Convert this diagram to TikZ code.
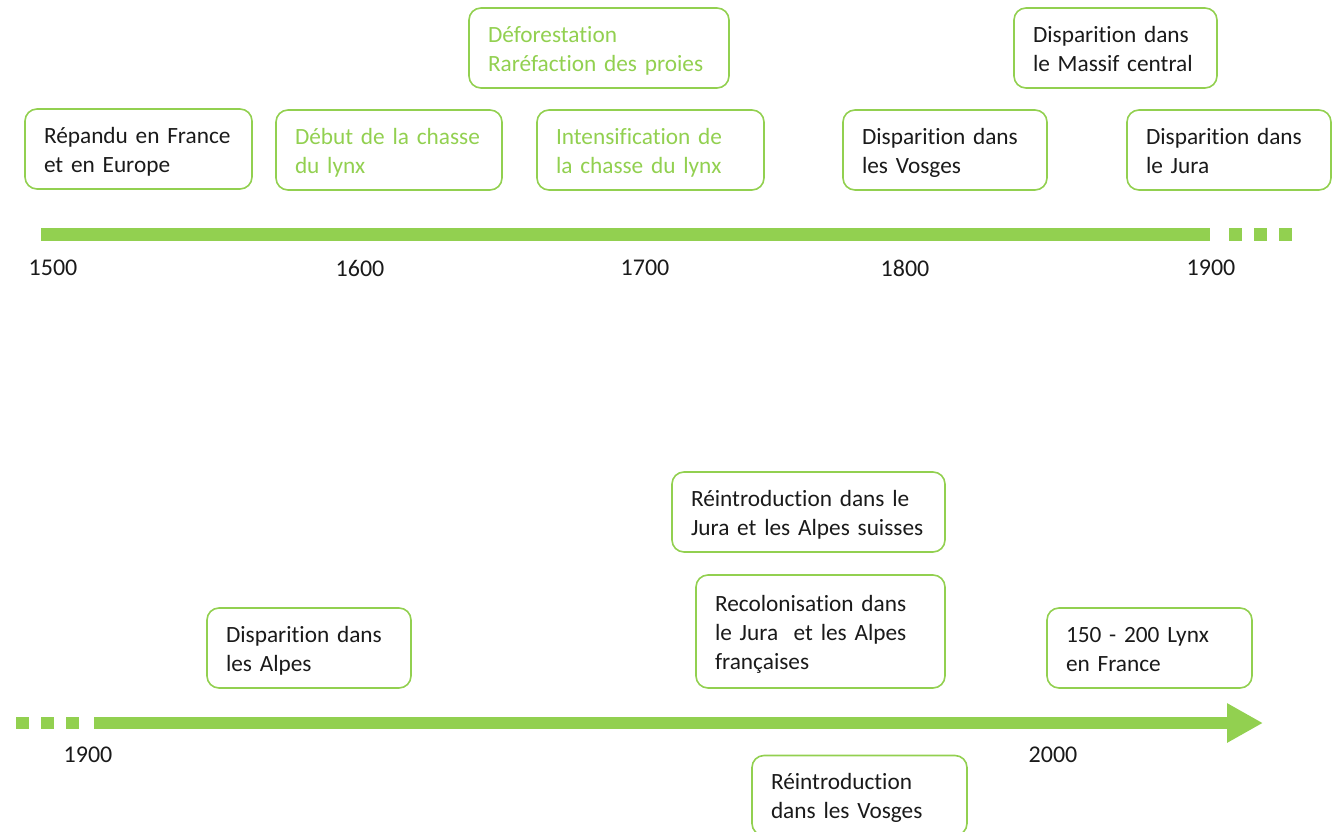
\documentclass[tikz,border=0pt]{standalone}
\usepackage{fontspec}
\setmainfont{Carlito}[Ligatures=NoCommon]
\usetikzlibrary{arrows.meta}
\definecolor{lgreen}{HTML}{92D050}
\definecolor{txt}{HTML}{1A1A1A}
\newcommand\tst{\rule{0pt}{26.3pt}}
\tikzset{
  box/.style={draw=lgreen, rounded corners=12pt, line width=1.6pt, align=left,
    inner xsep=19pt, inner ysep=0pt, text=txt,
    font=\fontsize{23.3}{29}\selectfont},
  gbox/.style={box, text=lgreen},
  bar/.style={lgreen, line width=12.5pt},
  dots/.style={lgreen, line width=12.5pt, dash pattern=on 12.5pt off 12.5pt},
  year/.style={text=txt, font=\fontsize{24}{28}\selectfont, inner sep=0pt}
}
\begin{document}
\begin{tikzpicture}[x=1pt,y=-1pt]
\useasboundingbox (0,0) rectangle (1336,832);
% top timeline
\coordinate (t1) at (41,234.5);
\coordinate (t2) at (1210,234.5);
\coordinate (t3) at (1229,234.5);
\coordinate (t4) at (1292,234.5);
\draw[bar] (t1) -- (t2);
\draw[dots] (t3) -- (t4);
\node[year] (y1500) at (53,268) {1500};
\node[year] (y1600) at (360,268) {1600};
\node[year] (y1700) at (645,268) {1700};
\node[year] (y1800) at (905,268) {1800};
\node[year] (y1900a) at (1211,268) {1900};
% top boxes
\node[box, minimum width=227pt, minimum height=80pt, text width=189pt] (b1) at (138.5,149) {\tst Répandu en France\\et en Europe\strut};
\node[gbox, minimum width=226pt, minimum height=80pt, text width=188pt] (b2) at (389,150) {\tst Début de la chasse\\du lynx\strut};
\node[gbox, minimum width=260pt, minimum height=80pt, text width=222pt] (b3) at (599,48) {\tst Déforestation\\Raréfaction des proies\strut};
\node[gbox, minimum width=227pt, minimum height=80pt, text width=189pt] (b4) at (650.5,150) {\tst Intensification de\\la chasse du lynx\strut};
\node[box, minimum width=204pt, minimum height=80pt, text width=166pt] (b5) at (945,150) {\tst Disparition dans\\les Vosges\strut};
\node[box, minimum width=203pt, minimum height=80pt, text width=165pt] (b6) at (1115.5,48) {\tst Disparition dans\\le Massif central\strut};
\node[box, minimum width=204pt, minimum height=80pt, text width=166pt] (b7) at (1229,150) {\tst Disparition dans\\le Jura\strut};
% bottom timeline
\coordinate (u1) at (16,723);
\coordinate (u2) at (79,723);
\coordinate (u3) at (94,723);
\coordinate (u4) at (1263,723);
\draw[dots] (u1) -- (u2);
\draw[bar, -{Triangle[length=36pt,width=37pt]}] (u3) -- (u4);
\node[year] (y1900b) at (88,755) {1900};
\node[year] (y2000) at (1053,755) {2000};
% bottom boxes
\node[box, minimum width=204pt, minimum height=80pt, text width=166pt] (c1) at (309,648) {\tst Disparition dans\\les Alpes\strut};
\node[box, minimum width=273pt, minimum height=80pt, text width=235pt] (c2) at (808.5,512) {\tst Réintroduction dans le\\Jura et les Alpes suisses\strut};
\node[box, minimum width=249pt, minimum height=113pt, text width=211pt] (c3) at (820.5,631.5) {\tst Recolonisation dans\\le Jura~ et les Alpes\\françaises\strut};
\node[box, minimum width=205pt, minimum height=80pt, text width=167pt] (c4) at (1149.5,648) {\tst 150 - 200 Lynx\\en France\strut};
\node[box, minimum width=215pt, minimum height=80pt, text width=177pt] (c5) at (859.5,795.5) {\tst Réintroduction\\dans les Vosges\strut};
\end{tikzpicture}
\end{document}
